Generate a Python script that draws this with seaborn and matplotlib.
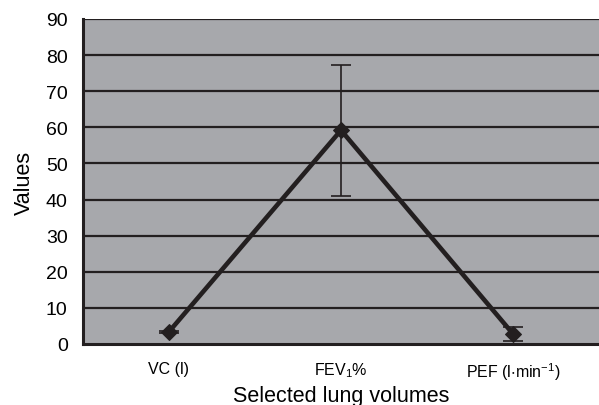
import numpy as np
import pandas as pd
import matplotlib
matplotlib.use("Agg")
import matplotlib.pyplot as plt
import seaborn as sns

# values
categories = ["VC (l)", "FEV$_1$%", "PEF (l$\\cdot$min$^{-1}$)"]
means = [3.4, 59.2, 2.8]
errors = [0.3, 18.1, 1.9]
yticks = [0, 10, 20, 30, 40, 50, 60, 70, 80, 90]

sns.set_style("white")
plt.rcParams["font.family"] = ["Liberation Sans", "DejaVu Sans"]
plt.rcParams["mathtext.fontset"] = "custom"
plt.rcParams["mathtext.rm"] = "Liberation Sans"
plt.rcParams["mathtext.it"] = "Liberation Sans"
plt.rcParams["mathtext.default"] = "regular"
plt.rcParams["text.color"] = "black"
plt.rcParams["axes.labelcolor"] = "black"
plt.rcParams["xtick.color"] = "black"
plt.rcParams["ytick.color"] = "black"

line_col = "#231f20"
df = pd.DataFrame({"pos": np.arange(len(categories)), "value": means})

fig = plt.figure(figsize=(5.99, 4.06), dpi=100)
ax = fig.add_axes([83 / 599, 1 - 345 / 406, 1 - 83 / 599, (345 - 20) / 406])
ax.set_facecolor("#a7a8ac")

# horizontal grid lines
for y in yticks[1:]:
    ax.axhline(y, color=line_col, lw=1.6, zorder=1)

sns.lineplot(data=df, x="pos", y="value", color=line_col, lw=3.3,
             marker="D", markersize=8, markeredgecolor=line_col, ax=ax, zorder=3)
ax.errorbar(df["pos"], df["value"], yerr=errors, fmt="none", ecolor=line_col,
            elinewidth=1.2, capsize=7, capthick=1.2, zorder=2)

ax.set_xlim(-0.5, 2.5)
ax.set_ylim(0, 90)
ax.set_yticks(yticks)
ax.set_yticklabels([str(v) for v in yticks], fontsize=14)
ax.set_xticks([0.5, 1.5])
ax.set_xticklabels([])
ax.set_xticks([0, 1, 2], minor=True)
ax.set_xticklabels(categories, minor=True, fontsize=11.5)
ax.tick_params(axis="x", which="minor", length=0, pad=12)
ax.tick_params(axis="x", which="major", length=6, width=1.5, color=line_col)
ax.tick_params(axis="y", length=7, width=1.5, color=line_col, pad=4)

for side in ["top", "right"]:
    ax.spines[side].set_visible(False)
for side in ["left", "bottom"]:
    ax.spines[side].set_color(line_col)
    ax.spines[side].set_linewidth(2.2)

ax.set_xlabel("Selected lung volumes", fontsize=15.5, labelpad=2)
ax.set_ylabel("Values", fontsize=15.5, labelpad=8)

fig.savefig("out.png", dpi=100)
